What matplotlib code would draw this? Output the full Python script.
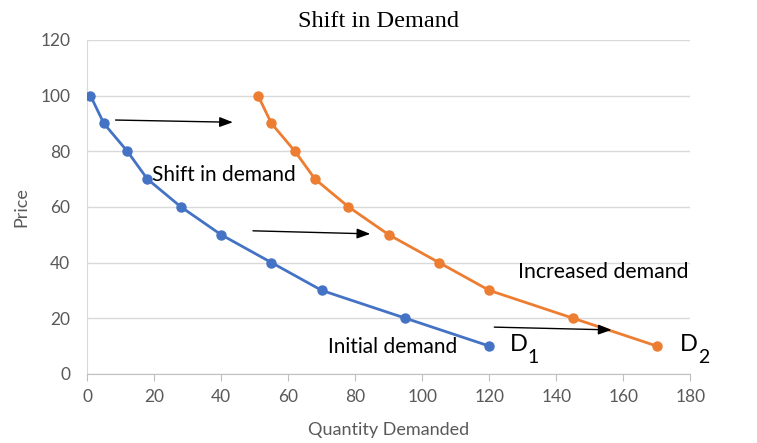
import matplotlib
matplotlib.use("Agg")
import matplotlib.pyplot as plt

# Data
price = [100, 90, 80, 70, 60, 50, 40, 30, 20, 10]
qty_initial = [1, 5, 12, 18, 28, 40, 55, 70, 95, 120]
qty_increased = [51, 55, 62, 68, 78, 90, 105, 120, 145, 170]
x_ticks = [0, 20, 40, 60, 80, 100, 120, 140, 160, 180]
y_ticks = [0, 20, 40, 60, 80, 100, 120]

# arrows: (x_start, y_start, x_end, y_end)
arrows = [(8.5, 91.2, 43.5, 90.4), (49.5, 51.4, 84.5, 50.3), (121.5, 16.8, 156.5, 15.8)]

blue = "#4472C4"
orange = "#ED7D31"
grey = "#595959"

fig = plt.figure(figsize=(7.57, 4.43), dpi=100)
ax = fig.add_axes([0.115, 0.156, 0.797, 0.754])

ax.plot(qty_initial, price, color=blue, lw=2, marker="o", ms=6.5, zorder=3)
ax.plot(qty_increased, price, color=orange, lw=2, marker="o", ms=6.5, zorder=3)

for x0, y0, x1, y1 in arrows:
    ax.annotate("", xy=(x1, y1), xytext=(x0, y0),
                arrowprops=dict(arrowstyle="-|>,head_length=0.8,head_width=0.3",
                                color="black", lw=1, shrinkA=0, shrinkB=0), zorder=4)

txtfont = dict(family="Lato", color="black")
ax.text(19.5, 71.5, "Shift in demand", fontsize=15, va="center", ha="left", **txtfont)
ax.text(128.5, 36.5, "Increased demand", fontsize=15.3, va="center", ha="left", **txtfont)
ax.text(72, 9.7, "Initial demand", fontsize=15, va="center", ha="left", **txtfont)
ax.text(126, 10.5, "D", fontsize=17, va="center", ha="left", **txtfont)
ax.text(131.3, 5.8, "1", fontsize=14, va="center", ha="left", **txtfont)
ax.text(177, 10.5, "D", fontsize=17, va="center", ha="left", **txtfont)
ax.text(182.3, 5.8, "2", fontsize=14, va="center", ha="left", **txtfont)

ax.set_xlim(0, 180)
ax.set_ylim(0, 120)
ax.set_xticks(x_ticks)
ax.set_yticks(y_ticks)
ax.grid(axis="y", color="#D9D9D9", lw=1)
ax.set_axisbelow(True)
for s in ["top", "right"]:
    ax.spines[s].set_visible(False)
ax.spines["left"].set_color("#D9D9D9")
ax.spines["bottom"].set_color("#BFBFBF")
ax.tick_params(axis="x", colors=grey, labelsize=12.5, length=5, color="#BFBFBF", pad=6)
ax.tick_params(axis="y", colors=grey, labelsize=12.5, length=0, pad=12)
for lbl in ax.get_xticklabels() + ax.get_yticklabels():
    lbl.set_family("Lato")

ax.set_xlabel("Quantity Demanded", fontsize=13, color=grey, family="Lato", labelpad=12)
ax.set_ylabel("Price", fontsize=13, color=grey, family="Lato", labelpad=8)
fig.text(0.5, 0.952, "Shift in Demand", ha="center", va="center", fontsize=17.5,
         family="Liberation Serif", color="black")

fig.savefig("out.png", dpi=100)
